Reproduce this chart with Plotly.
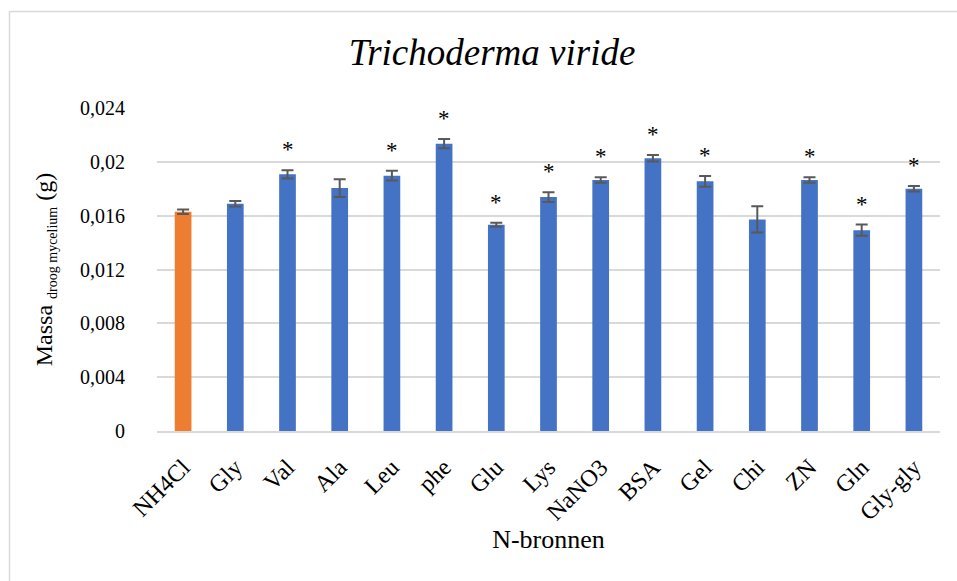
import plotly.graph_objects as go

# Dry mycelium mass per nitrogen source
categories = ["NH4Cl", "Gly", "Val", "Ala", "Leu", "phe", "Glu", "Lys",
              "NaNO3", "BSA", "Gel", "Chi", "ZN", "Gln", "Gly-gly"]
mass = [0.01629, 0.01689, 0.01907, 0.01805, 0.01897, 0.02135, 0.01532, 0.01738,
        0.01865, 0.02026, 0.01855, 0.01572, 0.01865, 0.01492, 0.01800]
err = [0.00016, 0.00020, 0.00031, 0.00066, 0.00036, 0.00035, 0.00015, 0.00036,
       0.00020, 0.00024, 0.00040, 0.00098, 0.00020, 0.00042, 0.00020]
significant = [False, False, True, False, True, True, True, True,
               True, True, True, False, True, True, True]

y_ticks = [0, 0.004, 0.008, 0.012, 0.016, 0.02, 0.024]
y_ticktext = ["0", "0,004", "0,008", "0,012", "0,016", "0,02", "0,024"]

BLUE = "#4472C4"
ORANGE = "#ED7D31"
colors = [ORANGE if c == "NH4Cl" else BLUE for c in categories]

FONT = "Liberation Serif"

fig = go.Figure()
fig.add_trace(go.Bar(
    x=categories,
    y=mass,
    marker=dict(color=colors, line=dict(width=0)),
    error_y=dict(type="data", array=err, visible=True,
                 color="#595959", thickness=2, width=6),
    showlegend=False,
))

# Significance markers above the error bars
for c, m, e, s in zip(categories, mass, err, significant):
    if s:
        fig.add_annotation(x=c, y=m + e, text="*", showarrow=False,
                           yanchor="bottom", yshift=6,
                           font=dict(family=FONT, size=23, color="#000000"))

# Chart-area frame
fig.add_shape(type="rect", xref="paper", yref="paper",
              x0=(9.5 - 157) / 783, x1=(990 - 157) / 783,
              y0=(431 - 600) / 323, y1=(431 - 11.5) / 323,
              line=dict(color="#D9D9D9", width=1.5), fillcolor="rgba(0,0,0,0)",
              layer="below")

fig.update_layout(
    width=957, height=581,
    margin=dict(l=157, r=17, t=108, b=150),
    paper_bgcolor="white", plot_bgcolor="white",
    bargap=0.68,
    font=dict(family=FONT, size=20, color="#000000"),
    title=dict(text="<i>Trichoderma viride</i>", x=492 / 957, xanchor="center",
               y=1 - 52 / 581, yanchor="middle",
               font=dict(family=FONT, size=37, color="#000000")),
    xaxis=dict(
        tickangle=-45, showgrid=False, showline=True, linecolor="#D9D9D9",
        linewidth=1.5, ticks="", ticklabelstandoff=11,
        tickfont=dict(family=FONT, size=24),
        title=dict(text="N-bronnen", font=dict(family=FONT, size=26), standoff=5),
    ),
    yaxis=dict(
        range=[0, 0.024], tickvals=y_ticks, ticktext=y_ticktext,
        showgrid=True, gridcolor="#D9D9D9", gridwidth=1.5, zeroline=False,
        showline=False, ticks="", ticklabelstandoff=31,
        tickfont=dict(family=FONT, size=20),
        title=dict(text="Massa <sub><span style='font-size:14px'>droog mycelium</span></sub> (g)",
                   font=dict(family=FONT, size=24), standoff=20),
    ),
)

fig.write_html("out.html")
